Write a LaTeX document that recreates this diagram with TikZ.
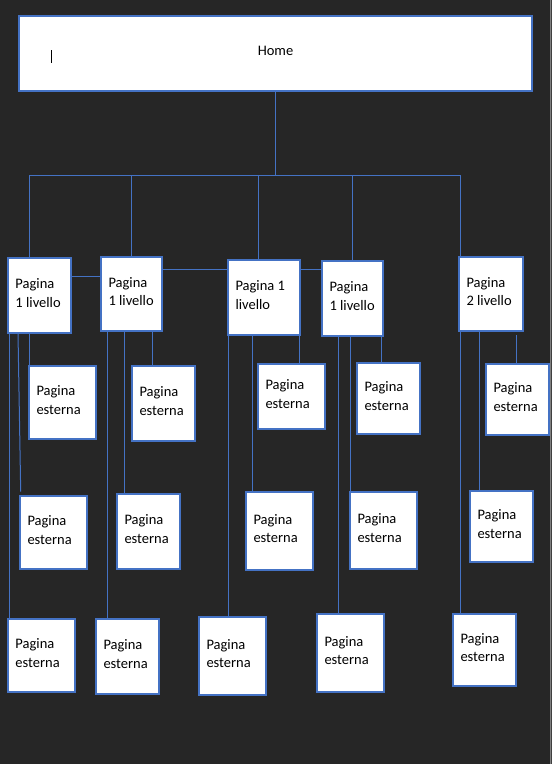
\documentclass[tikz,border=0pt]{standalone}
\usepackage{fontspec}
\setmainfont{Carlito}
\definecolor{sfondo}{HTML}{262626}
\definecolor{bordo}{HTML}{4472C4}
\pgfdeclarelayer{bg}
\pgfdeclarelayer{links}
\pgfsetlayers{bg,links,main}

\begin{document}
\begin{tikzpicture}[x=1pt, y=-1pt,
  font=\fontsize{14.5pt}{18.5pt}\selectfont,
  casa/.style={draw=bordo, line width=1.2pt, fill=white, anchor=north west,
    outer sep=0pt, minimum width=513pt, minimum height=75pt},
  pagina/.code 2 args={\pgfmathsetlengthmacro\larg{#1-15}%
    \tikzset{draw=bordo, line width=1.2pt, fill=white, anchor=north west,
      outer sep=0pt, inner xsep=7.5pt, inner ysep=0pt, align=flush left,
      text depth=23.5pt, minimum height=#2pt, text width/.expanded=\larg}},
  link/.style={draw=bordo, line width=1pt}]

\useasboundingbox (0,0) rectangle (552,764);
\begin{pgfonlayer}{bg}
\fill[sfondo] (0,0) rectangle (552,764);
\fill[black!75] (550.5,0) rectangle (552,764);
\draw[gray, line width=1pt] (550.5,0) -- (550.5,764);
\end{pgfonlayer}

\node[casa] (home) at (19,16) {\raisebox{4.5pt}{Home}};
\draw[line width=1pt] ([xshift=32.4pt,yshift=3.5pt]home.west) -- ++(0,12.7);

\node[pagina={63}{75}] (liv1a) at (8,258) {Pagina\\1 livello};
\node[pagina={61}{74}] (liv1b) at (101,257) {Pagina\\1 livello};
\node[pagina={72}{75}] (liv1c) at (228,260) {Pagina 1\\livello};
\node[pagina={61}{75}] (liv1d) at (322,261) {Pagina\\1 livello};
\node[pagina={64}{74}] (liv2) at (459,257) {Pagina\\2 livello};

\node[pagina={67}{73}] (est1a) at (29,366) {Pagina\\esterna};
\node[pagina={67}{73}] (est2a) at (20,496) {Pagina\\esterna};
\node[pagina={67}{73}] (est3a) at (8,619) {Pagina\\esterna};
\node[pagina={63}{75}] (est1b) at (132,366) {Pagina\\esterna};
\node[pagina={63}{75}] (est2b) at (117,494) {Pagina\\esterna};
\node[pagina={63}{75}] (est3b) at (96,619) {Pagina\\esterna};
\node[pagina={67}{65}] (est1c) at (258,364) {Pagina\\esterna};
\node[pagina={67}{78}] (est2c) at (246,492) {Pagina\\esterna};
\node[pagina={67}{78}] (est3c) at (199,617) {Pagina\\esterna};
\node[pagina={63}{71}] (est1d) at (357,363) {Pagina\\esterna};
\node[pagina={67}{77}] (est2d) at (350,492) {Pagina\\esterna};
\node[pagina={67}{78}] (est3d) at (317,614) {Pagina\\esterna};
\node[pagina={63}{71}] (est1e) at (486,364) {Pagina\\esterna};
\node[pagina={63}{71}] (est2e) at (470,491) {Pagina\\esterna};
\node[pagina={63}{72}] (est3e) at (453,614) {Pagina\\esterna};

\begin{pgfonlayer}{links}
\coordinate (barL) at (29,175);
\coordinate (barR) at (460,175);
\draw[link] (home.south) -- (home.south |- barL);
\draw[link] (barL) -- (barR);
\draw[link] (barL) -- (barL |- liv1a.north);
\draw[link] (liv1b.north |- barL) -- (liv1b.north);
\draw[link] ([xshift=-6pt]liv1c.north |- barL) -- ([xshift=-6pt]liv1c.north);
\draw[link] (liv1d.north |- barL) -- (liv1d.north);
\draw[link] (barR) -- (barR |- liv2.north);

\draw[link] ([yshift=19pt]liv1a.east) -- ([yshift=19pt]liv1a.east -| liv1b.west);
\draw[link] ([yshift=25pt]liv1b.east) -- ([yshift=25pt]liv1b.east -| liv1d.west);

\draw[link] (est1a.north west |- liv1a.south) -- (est1a.north west);
\draw[link] ([xshift=10pt]liv1a.south west) -- ([xshift=0.7pt,yshift=4.5pt]est2a.north west);
\draw[link] ([xshift=1pt]est3a.north west |- liv1a.south) -- ([xshift=1pt]est3a.north west);

\draw[link] ([xshift=-10pt]liv1b.south east) -- ([xshift=-10pt]liv1b.south east |- est1b.north);
\draw[link] ([xshift=7pt]est2b.north west |- liv1b.south) -- ([xshift=7pt]est2b.north west);
\draw[link] ([xshift=11pt]est3b.north west |- liv1b.south) -- ([xshift=11pt]est3b.north west);

\draw[link] ([xshift=-1pt]liv1c.south east) -- ([xshift=-1pt]liv1c.south east |- est1c.north);
\draw[link] ([xshift=6pt]est2c.north west |- liv1c.south) -- ([xshift=6pt]est2c.north west);
\draw[link] (liv1c.south west) -- (liv1c.south west |- est3c.north);

\draw[link] ([xshift=-1.5pt]liv1d.south east) -- ([xshift=-1.5pt]liv1d.south east |- est1d.north);
\draw[link] (est2d.north west |- liv1d.south) -- (est2d.north west);
\draw[link] ([xshift=21pt]est3d.north west |- liv1d.south) -- ([xshift=21pt]est3d.north west);

\draw[link] ([xshift=30pt]est1e.north west) -- +(0,-29);
\draw[link] ([xshift=9pt]est2e.north west |- liv2.south) -- ([xshift=9pt]est2e.north west);
\draw[link] ([xshift=1pt]liv2.south west) -- ([xshift=1pt]liv2.south west |- est3e.north);
\end{pgfonlayer}

\end{tikzpicture}
\end{document}
